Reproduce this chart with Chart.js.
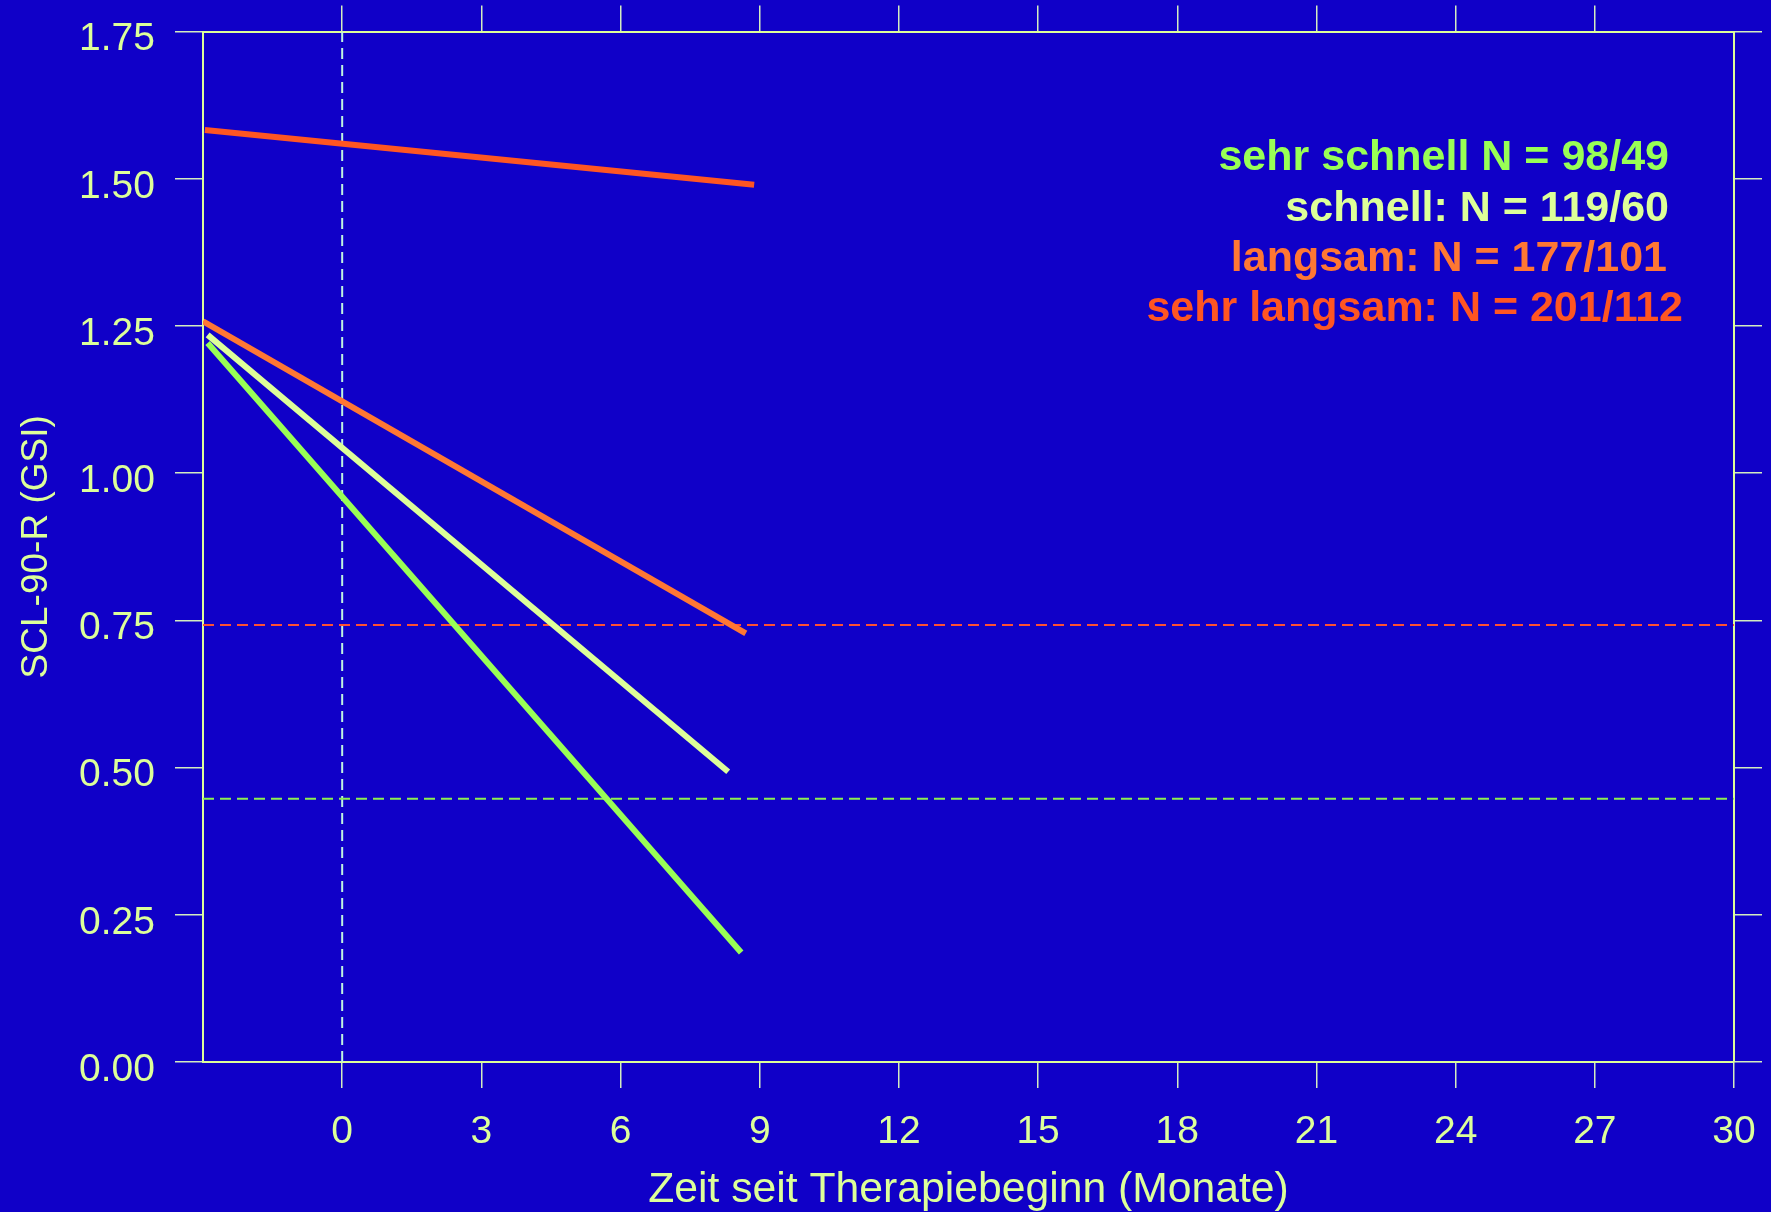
<!DOCTYPE html>
<html>
<head>
<meta charset="utf-8">
<script src="https://cdn.jsdelivr.net/npm/chart.js@4.4.1/dist/chart.umd.min.js"></script>
<style>
  html, body { margin: 0; padding: 0; background: #1000C8; }
  canvas { display: block; }
</style>
</head>
<body>
<canvas id="c" width="1771" height="1212"></canvas>
<script>
// ---- data ----
const groupNames = ['sehr schnell', 'schnell', 'langsam', 'sehr langsam'];
const legendLabels = ['sehr schnell N = 98/49', 'schnell: N = 119/60', 'langsam: N = 177/101', 'sehr langsam: N = 201/112'];
const startMonths = [-2.9, -2.9, -3.0, -2.96];
const startScores = [1.221, 1.235, 1.258, 1.583];
const endMonths = [8.6, 8.32, 8.7, 8.88];
const endScores = [0.186, 0.493, 0.728, 1.490];
const cutoffScores = [0.742, 0.447];
const therapyStartMonth = 0;
const xTickValues = [0, 3, 6, 9, 12, 15, 18, 21, 24, 27, 30];
const yTickValues = [0, 0.25, 0.5, 0.75, 1.0, 1.25, 1.5, 1.75];
const xTitle = 'Zeit seit Therapiebeginn (Monate)';
const yTitle = 'SCL-90-R (GSI)';

// ---- styles ----
const lineColors = ['#99ff55', '#ddff99', '#ff7733', '#ff5522'];
const cutoffColors = ['#ff5032', '#8cf050'];
const startLineColor = '#c0f4e0';
const axisColor = '#ddff99';
const tickMarkColor = '#d4ecc0';
const fontFamily = '"Liberation Sans", Arial, Helvetica, sans-serif';

const xMin = -3, xMax = 30, yMin = 0, yMax = 1.75;

const datasets = [];
groupNames.forEach((name, i) => {
  datasets.push({
    label: name,
    data: [{x: startMonths[i], y: startScores[i]}, {x: endMonths[i], y: endScores[i]}],
    borderColor: lineColors[i],
    borderWidth: 6,
    borderCapStyle: 'butt',
    showLine: true,
    pointRadius: 0,
    xAxisID: 'x', yAxisID: 'y'
  });
});
cutoffScores.forEach((v, i) => {
  datasets.push({
    label: 'cutoff ' + i,
    data: [{x: xMin, y: v}, {x: xMax, y: v}],
    borderColor: cutoffColors[i],
    borderWidth: 2,
    borderDash: [11, 6],
    showLine: true,
    pointRadius: 0,
    xAxisID: 'x', yAxisID: 'y'
  });
});
datasets.push({
  label: 'Therapiebeginn',
  data: [{x: therapyStartMonth, y: yMin}, {x: therapyStartMonth, y: yMax}],
  borderColor: startLineColor,
  borderWidth: 2,
  borderDash: [11, 6],
  showLine: true,
  pointRadius: 0,
  xAxisID: 'x', yAxisID: 'y'
});

const legendPlugin = {
  id: 'textLegend',
  afterDatasetsDraw(chart) {
    const ctx = chart.ctx;
    const rights = [1669, 1669, 1667, 1683];
    const baselines = [170, 221, 271, 321];
    ctx.save();
    ctx.font = 'bold 43px ' + fontFamily;
    ctx.textAlign = 'right';
    ctx.textBaseline = 'alphabetic';
    legendLabels.forEach((t, i) => {
      ctx.fillStyle = lineColors[i];
      ctx.fillText(t, rights[i], baselines[i]);
    });
    ctx.restore();
  }
};

const gridOpts = (len) => ({
  drawOnChartArea: false,
  drawTicks: true,
  tickLength: len,
  color: tickMarkColor,
  lineWidth: 1.5
});
const borderOpts = { display: true, color: axisColor, width: 2 };
const noPad = s => { s.paddingTop = 0; s.paddingBottom = 0; s.paddingLeft = 0; s.paddingRight = 0; };

new Chart(document.getElementById('c'), {
  type: 'scatter',
  data: { datasets },
  plugins: [legendPlugin],
  options: {
    responsive: false,
    animation: false,
    layout: { padding: 0 },
    plugins: { legend: { display: false }, tooltip: { enabled: false } },
    scales: {
      x: {
        type: 'linear', position: 'bottom', min: xMin, max: xMax,
        afterBuildTicks: s => { s.ticks = xTickValues.map(v => ({value: v})); },
        afterFit: s => { s.height = 150; noPad(s); },
        border: borderOpts,
        grid: gridOpts(26),
        ticks: { color: axisColor, font: { size: 39, family: fontFamily }, padding: 21, maxRotation: 0, autoSkip: false },
        title: { display: true, text: xTitle, color: axisColor, font: { size: 42.7, family: fontFamily, lineHeight: 1 }, padding: { top: 0, bottom: 0 } }
      },
      xTop: {
        type: 'linear', position: 'top', min: xMin, max: xMax,
        afterBuildTicks: s => { s.ticks = xTickValues.filter(v => v < xMax).map(v => ({value: v})); },
        afterFit: s => { s.height = 31.6; noPad(s); },
        border: borderOpts,
        grid: gridOpts(26),
        ticks: { display: false }
      },
      y: {
        type: 'linear', position: 'left', min: yMin, max: yMax,
        afterBuildTicks: s => { s.ticks = yTickValues.map(v => ({value: v})); },
        afterFit: s => { s.width = 203; noPad(s); },
        border: borderOpts,
        grid: gridOpts(28),
        ticks: { color: axisColor, font: { size: 39, family: fontFamily }, padding: 20, labelOffset: 8, callback: v => Number(v).toFixed(2) },
        title: { display: true, text: yTitle, color: axisColor, font: { size: 37, family: fontFamily }, padding: { top: 15, bottom: 0 } }
      },
      yRight: {
        type: 'linear', position: 'right', min: yMin, max: yMax,
        afterBuildTicks: s => { s.ticks = yTickValues.map(v => ({value: v})); },
        afterFit: s => { s.width = 37; noPad(s); },
        border: borderOpts,
        grid: gridOpts(28),
        ticks: { display: false }
      }
    }
  }
});
</script>
</body>
</html>
